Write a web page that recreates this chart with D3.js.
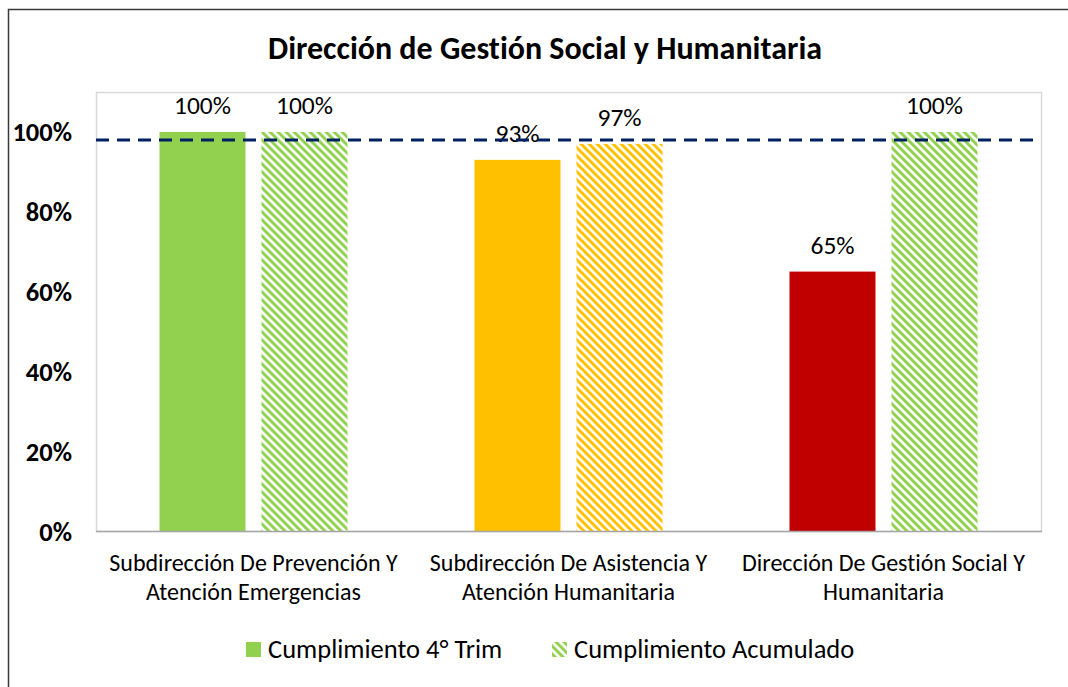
<!DOCTYPE html>
<html>
<head>
<meta charset="utf-8">
<script src="https://cdn.jsdelivr.net/npm/d3@7"></script>
<style>
  html, body { margin: 0; padding: 0; background: #fff; }
  svg { display: block; }
  text { font-family: Calibri, Carlito, Lato, sans-serif; fill: #000; font-variant-ligatures: none; font-feature-settings: "liga" 0, "clig" 0; }
</style>
</head>
<body>
<svg id="chart" width="1068" height="687"></svg>
<script>
// ---- data ----
const title = "Dirección de Gestión Social y Humanitaria";
const categories = [
  ["Subdirección De Prevención Y", "Atención Emergencias"],
  ["Subdirección De Asistencia Y", "Atención Humanitaria"],
  ["Dirección De Gestión Social Y", "Humanitaria"]
];
const seriesNames = ["Cumplimiento 4° Trim", "Cumplimiento Acumulado"];
const trimValues = [1.00, 0.93, 0.65];
const acumValues = [1.00, 0.97, 1.00];
const barColors = ["#92D050", "#FFC000", "#C00000"];
const acumColors = ["#92D050", "#FFC000", "#92D050"];
const yTicks = [0, 0.2, 0.4, 0.6, 0.8, 1.0];
const targetLine = 0.98;

// ---- layout ----
const svg = d3.select("#chart");
const plot = { left: 96, top: 92, right: 1041, bottom: 531 };

svg.append("rect").attr("width", 1068).attr("height", 687).attr("fill", "#fff");
// outer chart border (cropped)
svg.append("rect").attr("x", 8.5).attr("y", 9.5).attr("width", 1080).attr("height", 700)
  .attr("fill", "none").attr("stroke", "#3a3a3a").attr("stroke-width", 1.5);

// patterns
const defs = svg.append("defs");
const uniqColors = Array.from(new Set(acumColors));
uniqColors.forEach(c => {
  const p = defs.append("pattern")
    .attr("id", "hatch" + c.slice(1))
    .attr("patternUnits", "userSpaceOnUse")
    .attr("width", 5.66).attr("height", 5.66)
    .attr("patternTransform", "rotate(-45)");
  p.append("rect").attr("width", 5.66).attr("height", 5.66).attr("fill", "#fff");
  p.append("rect").attr("width", 3.0).attr("height", 5.66).attr("fill", c);
});

const catKeys = categories.map((c, i) => "c" + i);
const x0 = d3.scaleBand().domain(catKeys).range([plot.left, plot.right]);
const x1 = d3.scaleBand().domain(seriesNames).range([0, x0.bandwidth()])
  .paddingInner(0.157).paddingOuter(0.6226);
const y = d3.scaleLinear().domain([0, 1.1]).range([plot.bottom, plot.top]);

// plot area border
svg.append("rect").attr("x", plot.left + 0.5).attr("y", plot.top + 0.5)
  .attr("width", plot.right - plot.left).attr("height", plot.bottom - plot.top)
  .attr("fill", "none").attr("stroke", "#d9d9d9").attr("stroke-width", 1.5);

// y axis
const yAxis = d3.axisLeft(y).tickValues(yTicks).tickFormat(d3.format(".0%")).tickSize(0).tickPadding(24);
const gy = svg.append("g").attr("transform", `translate(${plot.left},0)`).call(yAxis);
gy.select(".domain").remove();
gy.selectAll("text").style("font-size", "26.5px").style("font-weight", "bold")
  .style("font-family", "Calibri, Carlito, Lato, sans-serif").attr("dy", "0.34em");

// bars
const groups = svg.append("g").selectAll("g").data(catKeys).join("g")
  .attr("transform", d => `translate(${x0(d)},0)`);

groups.append("rect")
  .attr("x", x1(seriesNames[0])).attr("width", x1.bandwidth())
  .attr("y", (d, i) => y(trimValues[i])).attr("height", (d, i) => y(0) - y(trimValues[i]))
  .attr("fill", (d, i) => barColors[i]);

groups.append("rect")
  .attr("x", x1(seriesNames[1])).attr("width", x1.bandwidth())
  .attr("y", (d, i) => y(acumValues[i])).attr("height", (d, i) => y(0) - y(acumValues[i]))
  .attr("fill", (d, i) => `url(#hatch${acumColors[i].slice(1)})`);

// bottom axis line
svg.append("line").attr("x1", plot.left).attr("x2", plot.right + 1)
  .attr("y1", plot.bottom + 0.5).attr("y2", plot.bottom + 0.5)
  .attr("stroke", "#a6a6a6").attr("stroke-width", 1.5);

// target dashed line
svg.append("line").attr("x1", plot.left).attr("x2", plot.right)
  .attr("y1", y(targetLine)).attr("y2", y(targetLine))
  .attr("stroke", "#002060").attr("stroke-width", 3).attr("stroke-dasharray", "13,8");

// data labels
const pct = d3.format(".0%");
groups.append("text")
  .attr("x", x1(seriesNames[0]) + x1.bandwidth() / 2)
  .attr("y", (d, i) => y(trimValues[i]) - 18)
  .attr("text-anchor", "middle").style("font-size", "25.5px")
  .text((d, i) => pct(trimValues[i]));
groups.append("text")
  .attr("x", x1(seriesNames[1]) + x1.bandwidth() / 2)
  .attr("y", (d, i) => y(acumValues[i]) - 18)
  .attr("text-anchor", "middle").style("font-size", "25.5px")
  .text((d, i) => pct(acumValues[i]));

// category labels
const catText = svg.append("g").selectAll("text").data(catKeys).join("text")
  .attr("x", d => x0(d) + x0.bandwidth() / 2)
  .attr("y", 571)
  .attr("text-anchor", "middle").style("font-size", "24px");
catText.each(function(d, i) {
  const t = d3.select(this);
  categories[i].forEach((line, j) => {
    t.append("tspan").attr("x", x0(d) + x0.bandwidth() / 2).attr("dy", j === 0 ? 0 : 29).text(line);
  });
});

// title
svg.append("text").attr("x", 545).attr("y", 59).attr("text-anchor", "middle")
  .style("font-size", "32px").style("font-weight", "bold").text(title);

// legend
const legend = svg.append("g");
const legX = [246, 552];
seriesNames.forEach((name, i) => {
  legend.append("rect").attr("x", legX[i]).attr("y", 642).attr("width", 15).attr("height", 15)
    .attr("fill", i === 0 ? barColors[0] : `url(#hatch${acumColors[0].slice(1)})`);
  legend.append("text").attr("x", legX[i] + 22).attr("y", 658)
    .style("font-size", "26.5px").text(name);
});
</script>
</body>
</html>
